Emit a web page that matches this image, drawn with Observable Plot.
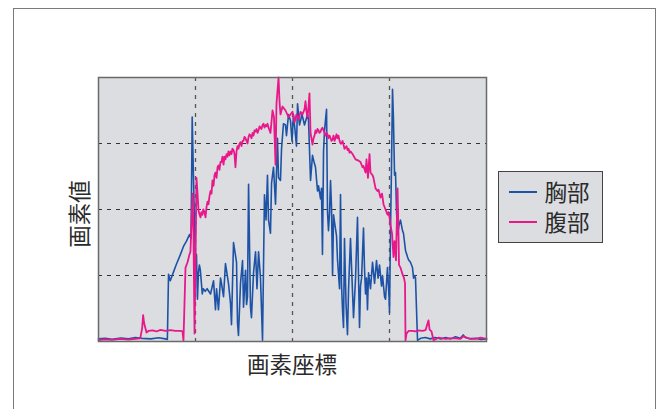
<!DOCTYPE html>
<html>
<head>
<meta charset="utf-8">
<script src="https://cdn.jsdelivr.net/npm/d3@7"></script>
<script src="https://cdn.jsdelivr.net/npm/@observablehq/plot@0.6"></script>
<style>
  html, body { margin: 0; padding: 0; background: #fff; }
  #wrap { position: relative; width: 661px; height: 409px; overflow: hidden; font-family: "Noto Sans CJK JP", "Noto Sans", sans-serif; }
  #outer { position: absolute; left: 13px; top: 8px; width: 643px; height: 420px; border: 1.5px solid #7a7a7a; box-sizing: border-box; }
  #chart { position: absolute; left: 0; top: 0; }
  .lbl { position: absolute; font-size: 22.5px; color: #2a2a2a; line-height: 1; white-space: nowrap; }
  #xlabel { left: 292px; top: 362.5px; transform: translate(-50%, -50%); }
  #ylabel { left: 78px; top: 214px; transform: translate(-50%, -50%) rotate(-90deg); }
  #legend { position: absolute; left: 498px; top: 171px; width: 105px; height: 72px; box-sizing: border-box; border: 1.5px solid #444; background: #dcdde0; }
  .item { position: absolute; left: 9.5px; height: 24px; display: flex; align-items: center; font-size: 22.5px; color: #2a2a2a; line-height: 1; }
  .sw { width: 28px; height: 0; border-top: 2px solid; margin-right: 8px; }
</style>
</head>
<body>
<div id="wrap">
  <div id="outer"></div>
  <div id="chart"></div>
  <div class="lbl" id="xlabel"></div>
  <div class="lbl" id="ylabel"></div>
  <div id="legend"></div>
</div>
<script>
// Series names and labels
const seriesNames = ["胸部", "腹部"];
const seriesColors = ["#1d53a6", "#e8178a"];
const xLabel = "画素座標";
const yLabel = "画素値";
const gridXTicks = [100, 200, 300];
const gridYTicks = [25, 50, 75];

// 胸部 (chest) profile: [pixel coordinate, pixel value]
const chestPoints = [
  [0,1],[7,1.2],[14,0.8],[23,1.3],[31,1],[38,1.5],[45,1.2],[54,1],[62,1.4],[69,1],[71,0.8],
  [72.2,25.5],[74,23],[77,26],[80,29],[84.5,33],[87.6,36],[90.7,38],[93.8,40.5],[95.4,39],[96.6,85],
  [97.9,62],[99,45],[100,29],[101,33],[102,16],[103,26],[104,29],[105,27],[107,18],[108,20],[110,19],
  [112,20],[115.5,18],[118.6,23],[120.6,12],[121.7,20],[123.7,12],[125.8,24],[126.8,22],[128.9,17],
  [130.9,29.5],[134,22],[136.1,14.4],[137.1,6.4],[139.2,37.5],[142.3,30],[143.3,7],[144.3,2.3],
  [146.4,22],[148.5,30.7],[149.5,13],[151.6,27],[152.6,14],[153.6,17],[154.7,59.5],[156.7,13],
  [157.7,9],[159.8,26],[161.9,34],[163.4,20],[165,34],[167,24],[169.1,0.5],[171.1,55.6],[172.7,46],
  [174.2,63],[175.3,46],[177.3,41],[178.4,60],[180.4,66],[182.5,52],[184.5,77],[185.6,62],[187.6,61],
  [188.7,73],[190.7,82.5],[192.8,82],[193.8,78],[195.9,86],[197.9,83.7],[199.5,76],[201,86],[202.6,80],
  [204.1,74],[205.2,90],[207.2,82],[209.8,86],[212.4,82],[215.5,86],[216.5,84],[218.6,61],[220.6,70.5],
  [222.2,68],[223.7,66],[225.8,57],[226.8,59],[228.9,54],[229.9,58],[230.9,33],[232,72],[233,80],
  [235.1,88],[236.1,49],[237.1,42],[238.2,49],[239.2,61],[240.2,51],[241.3,25],[242.3,48],[243.8,44],
  [245.4,40],[246.4,31],[248.5,20],[249.5,55.7],[250.5,22],[251.6,11.7],[252.6,5.3],[253.6,39],
  [255.2,14],[256.7,2.6],[257.8,20],[259.8,39],[260.8,29],[262.9,9],[263.9,16],[265,24],[267,47],
  [268.1,24],[269.1,5.3],[270.1,21],[271.2,24],[273.2,43],[274.2,28],[275.3,18],[276.3,24],[277.3,12],
  [278.4,26],[280.4,20],[282.5,30],[284.6,22],[286.6,30.7],[288.2,24],[289.7,29],[291.8,21],[292.8,25],
  [294.9,17],[295.9,16],[297.9,28],[299.5,17],[300,11],[301,40.5],[302.1,67],[303.1,95.5],[304.1,84],
  [305.2,63],[306.2,64],[307.2,49.6],[308.3,40.5],[309.8,44],[311.3,46],[313.4,42],[314.4,41],
  [316.5,34.5],[318.6,32],[319.6,31],[321.6,30],[323.7,28],[324.8,24],[325.8,25],[326.8,24],
  [328.9,0.4],[332,1.2],[337,1.5],[342,1],[347,1.5],[353,1],[358,1.5],[363,1],[368,1.8],[373,1.2],
  [376,2.5],[378,1.5],[383.5,1],[389,1.2],[394,0.8],[400,1]
];

// 腹部 (abdomen) profile: [pixel coordinate, pixel value]
const abdPoints = [
  [0,0.5],[7,0.8],[14,0.6],[23,1],[31,0.7],[38,1],[43,1.2],[45,5],[46,10],[47,7],[49.5,3.4],[51.5,4],
  [55.7,4.2],[59.8,3.8],[63.9,4.4],[69.1,4],[74.2,4.3],[79.4,4],[84.5,4],[86.6,3.8],[87.6,0.4],
  [89.7,28],[91.8,30],[93.8,33],[94.8,34],[95.9,45],[96.9,56],[97.9,41],[99,3],[100,30],[101,62],
  [102.1,56],[103.1,49.6],[104.2,48],
  [105.2,47],[106,49],[107.2,48],[108,50],[109.3,49],[110.3,47],[111.4,51],[112.4,53],[113.4,52],
  [114.4,55],[115.5,57],[116.5,56],[117.5,61],[118.6,59],[119.6,63],[120.6,64],[121.7,62],[122.7,66],
  [123.7,66.7],[124.7,65],[125.8,68],[126.8,68],[127.8,70],[128.9,67],[129.9,70],[130.9,69],[132,71],
  [133,70],[134,72],[135,70.5],[136.1,72],[137.1,71],[138.1,73],[139.2,72.5],[140.2,71],[141.2,66],
  [142.3,72],[143.3,74],[144.3,73],[145.4,75],[146.4,75.5],[147.4,74],[148.5,76],[149.5,76],
  [150.5,77.5],[151.6,77],[152.6,76],[153.6,75],[154.7,77.5],[155.7,78.5],[156.7,78],[157.7,77],
  [158.8,79],[159.8,78],[160.8,80],[161.9,79.5],[162.9,80.5],[164,79],[165,80],[166,81.5],[167,81],
  [168,80.5],[169.1,82],[170.1,82.5],[171.1,81],[172.2,82],[173.2,81.5],[174.2,82.5],[175.3,81],
  [176.3,80],[177.3,79],
  [179.4,87.5],[180.9,85],[182.5,67],[183.5,90],[185.6,100],[186.6,91],[187.6,86],[189.7,89],
  [192.8,87.5],[195.9,85],[197.9,86],[200,87],[202.1,83],[204.1,86],[206.2,84],[208.3,87],[210.3,86],
  [212.4,88],[213.4,91],[214.4,87],[215.5,85],[216.5,89],[217.5,94],[218.6,79],
  [220.6,74.6],[221.7,77],[222.7,78],[223.7,80],[224.7,79],[225.8,80.5],[226.8,80],[227.8,79],
  [228.9,79.5],[229.9,80.5],[230.9,81],[232,80],[233,79],[234,78],[235.1,79],[236.1,78.5],[237.1,77],
  [238.2,78],[239.2,77],[240.2,76],[241.3,76.5],[242.3,78],[243.3,76],[244.3,77],[245.4,78.5],
  [246.4,77],[247.4,78],[248.5,76],[249.5,75],[250.5,75],[251.6,76],[252.6,74.5],[253.6,73],
  [254.7,73.5],[255.7,74],[256.7,72.5],[257.8,73],[258.8,71.5],[259.8,72],
  [261.9,71],[265,69],[268.1,68.5],[270.1,68],[272.2,66],[273.2,66.5],[275.3,64],[276.3,69],[277.8,62],
  [279.4,71],[280.4,64],[282.5,63],[283.5,62],[285.6,58],[287.6,57],[288.7,57.5],[290.7,54.5],
  [292.3,56],[293.8,52],[295.9,50],[298,48],[299,49],[300,47],[301,44],[302.6,41],[304.1,32],
  [305.2,38],[306.7,30.7],[308.3,58],[309.3,40],[309.8,29],[311.3,28],[313.4,25.5],[315,24],[316,22],
  [316.5,0.4],[317.5,3],[319.6,4],[323.7,4],[326.8,3.8],[329.9,4.2],[334,4],[337.1,4.3],[340.2,8],
  [341.3,4.5],[343.3,3.8],[345.4,0.5],[348.5,1],[350.6,1.5],[357.8,1],[365,1.3],[373.2,1],[376.3,2],
  [381.5,1.2],[388.7,1],[393.8,1.5],[400,1]
];

const chest = chestPoints.map(([x, y]) => ({x, y}));
const abd = abdPoints.map(([x, y]) => ({x, y}));

const chart = Plot.plot({
  width: 661,
  height: 409,
  marginLeft: 98,
  marginRight: 175,
  marginTop: 77,
  marginBottom: 68,
  style: {background: "transparent"},
  x: {domain: [0, 400], axis: null},
  y: {domain: [0, 100], axis: null},
  marks: [
    Plot.frame({fill: "#dcdde0", stroke: null}),
    Plot.gridX(gridXTicks, {stroke: "#555", strokeOpacity: 1, strokeWidth: 1.3, strokeDasharray: "4,5"}),
    Plot.gridY(gridYTicks, {stroke: "#333", strokeOpacity: 1, strokeWidth: 1, strokeDasharray: "4,5"}),
    Plot.line(chest, {x: "x", y: "y", stroke: seriesColors[0], strokeWidth: 1.6}),
    Plot.line(abd, {x: "x", y: "y", stroke: seriesColors[1], strokeWidth: 1.8}),
    Plot.frame({stroke: "#6a6a6a", strokeWidth: 1.5})
  ]
});
document.getElementById("chart").appendChild(chart);
document.getElementById("xlabel").textContent = xLabel;
document.getElementById("ylabel").textContent = yLabel;

const legend = document.getElementById("legend");
seriesNames.forEach((name, i) => {
  const item = document.createElement("div");
  item.className = "item";
  item.style.top = (i === 0 ? 7.5 : 37.5) + "px";
  const sw = document.createElement("div");
  sw.className = "sw";
  sw.style.borderTopColor = seriesColors[i];
  const t = document.createElement("span");
  t.textContent = name;
  item.appendChild(sw);
  item.appendChild(t);
  legend.appendChild(item);
});
</script>
</body>
</html>
